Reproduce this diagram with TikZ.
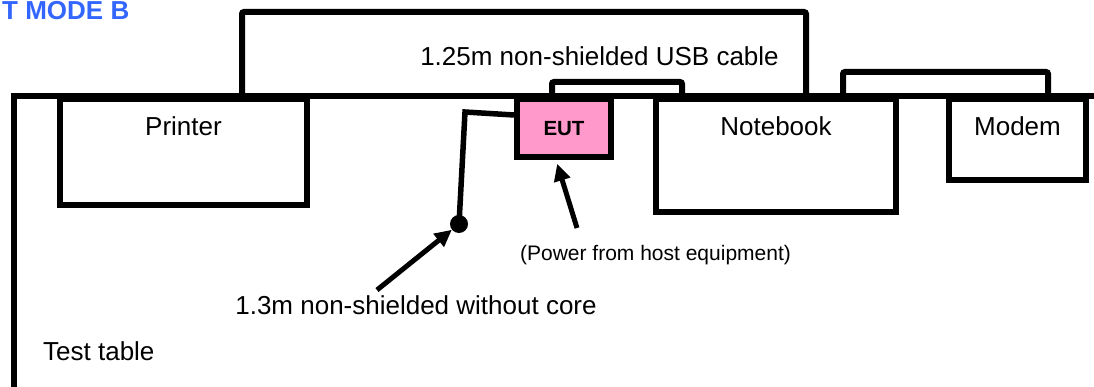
\documentclass[tikz,border=0pt]{standalone}
\usepackage{fontspec}
\setmainfont{Liberation Sans}
\usetikzlibrary{arrows.meta, positioning, calc}
\definecolor{eutpink}{RGB}{255,153,204}
\definecolor{titleblue}{RGB}{51,102,255}

\begin{document}
\begin{tikzpicture}[x=1pt, y=-1pt,
    devbox/.style={draw, line width=6pt, inner sep=0pt, anchor=north west},
    cable/.style={line width=6pt, rounded corners=2pt},
    pointer/.style={line width=5pt, -{Triangle[length=17pt, width=16pt]}},
    lbl/.style={font=\fontsize{26}{30}\selectfont, inner sep=0pt, anchor=base}]
    \useasboundingbox (0,0) rectangle (1094,387);

    % test table
    \coordinate (tblbot) at (14,390);
    \coordinate (tblcorner) at (14,96);
    \coordinate (tblend) at (1100,96);
    \draw[line width=6pt] (tblbot) -- (tblcorner) -- (tblend);

    % equipment on the table
    \node[devbox, minimum width=247pt, minimum height=106pt] (printer) at (57,96) {};
    \node[devbox, fill=eutpink, minimum width=94pt, minimum height=58pt] (eut) at (514,96) {};
    \node[devbox, minimum width=240pt, minimum height=113pt] (notebook) at (653,96) {};
    \node[devbox, minimum width=137pt, minimum height=81pt] (modem) at (946,96) {};

    \node[lbl] (printerlbl) at ([yshift=-40pt]printer.north) {Printer};
    \node[lbl] (notebooklbl) at ([yshift=-40pt]notebook.north) {Notebook};
    \node[lbl] (modemlbl) at ([yshift=-40pt]modem.north) {Modem};
    \node[lbl, font=\fontsize{20.5}{24}\selectfont\bfseries] (eutlbl) at ([yshift=-40pt]eut.north) {EUT};

    % cables
    \draw[cable] ([xshift=58.5pt]printer.north) -- ++(0,-84) -| ([xshift=30pt]notebook.north);
    \draw[cable] ([xshift=-12pt]eut.north) -- ++(0,-14) -| ([xshift=29pt]notebook.north west);
    \draw[cable] ([xshift=-56pt]notebook.north east) -- ++(0,-24) -| ([xshift=30.5pt]modem.north);

    \node[circle, fill, inner sep=0pt, minimum size=18pt] (plug) at (459,224) {};
    \coordinate (bend) at (465,112);
    \draw[line width=5.5pt] ([yshift=13pt]eut.west) -- (bend) -- (plug.center);

    % labels and pointers
    \node[lbl] (usblbl) at (599.5,66) {1.25m non-shielded USB cable};
    \node[lbl] (corelbl) at (416,314) {1.3m non-shielded without core};
    \node[lbl, font=\fontsize{21}{25}\selectfont] (pwrlbl) at (655.5,260) {(Power from host equipment)};
    \node[lbl, anchor=base west] (tbllbl) at (43,360) {Test table};
    \node[lbl, anchor=base west, font=\fontsize{26}{30}\selectfont\bfseries, text=titleblue] (title) at (2,19.5) {T MODE B};

    \coordinate (coretail) at (377,290);
    \coordinate (pwrtail) at (577,228);
    \draw[pointer] (coretail) -- (plug);
    \draw[pointer, shorten >=4pt] (pwrtail) -- ([xshift=-8pt]eut.south);
\end{tikzpicture}
\end{document}
